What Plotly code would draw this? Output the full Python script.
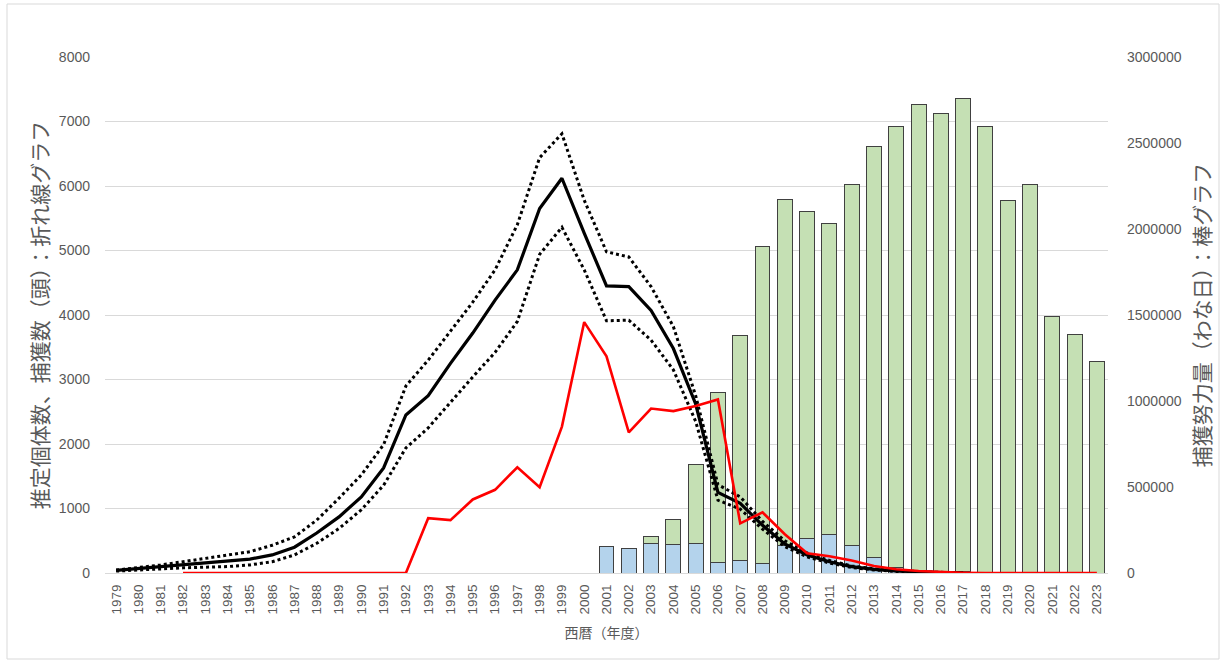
import plotly.graph_objects as go

years = [str(y) for y in range(1979, 2024)]

N = None
# Estimated population (left axis, heads)
est_mid = [40, 70, 100, 130, 155, 180, 215, 280, 400, 620, 870, 1180, 1630, 2450, 2750,
           3250, 3720, 4230, 4700, 5650, 6120, 5270, 4450, 4440, 4070, 3480, 2620, 1250,
           1080, 740, 450, 280, 175, 98, 57, 31, 15, 8, 4, N, N, N, N, N, N]
est_upper = [45, 80, 125, 175, 225, 275, 330, 430, 560, 820, 1160, 1520, 1990, 2900, 3300,
             3750, 4200, 4700, 5400, 6440, 6810, 5780, 4980, 4900, 4440, 3820, 2750, 1370,
             1180, 800, 500, 310, 195, 110, 65, 36, 18, 10, 5, N, N, N, N, N, N]
est_lower = [30, 50, 65, 80, 90, 100, 125, 175, 280, 460, 690, 980, 1360, 1940, 2250,
             2650, 3040, 3420, 3900, 4940, 5360, 4700, 3910, 3920, 3610, 3150, 2350, 1130,
             990, 680, 410, 250, 155, 85, 48, 25, 12, 6, 3, N, N, N, N, N, N]
# Captures (left axis, heads)
captures = [N, N, N, 0, 0, 0, 0, 0, 0, 0, 0, 0, 0, 0, 850,
            820, 1140, 1290, 1640, 1330, 2270, 3890, 3360, 2180, 2550, 2510, 2590, 2690,
            770, 940, 600, 305, 260, 195, 108, 57, 30, 15, 5, 0, 0, 0, 0, 0, 0]
# Trap effort (right axis, trap-days), stacked
effort_blue = [N]*22 + [157000, 140000, 169000, 163000, 169000, 62000, 70000, 58000,
                        160000, 200000, 221000, 160000, 92000, 30000, 10000, 8000, 10000,
                        N, N, N, N, N, N]
effort_green = [N]*22 + [N, N, 42000, 149000, 459000, 986000, 1310000, 1839000,
                         2013000, 1899000, 1812000, 2096000, 2389000, 2567000, 2712000,
                         2662000, 2746000, 2597000, 2167000, 2257000, 1494000, 1384000, 1228000]

left_ticks = [0, 1000, 2000, 3000, 4000, 5000, 6000, 7000, 8000]
right_ticks = [0, 500000, 1000000, 1500000, 2000000, 2500000, 3000000]

GRAY = "#595959"
JP = "Noto Sans CJK JP"
NUM = "Liberation Sans"

fig = go.Figure()
fig.add_trace(go.Bar(x=years, y=effort_blue, yaxis="y", marker=dict(color="#B4D3EC", line=dict(color="#404040", width=1)), name="blue"))
fig.add_trace(go.Bar(x=years, y=effort_green, yaxis="y", marker=dict(color="#C5E0B4", line=dict(color="#404040", width=1)), name="green"))

fig.add_trace(go.Scatter(x=years, y=est_upper, yaxis="y2", mode="lines", line=dict(color="black", width=3, dash="dot")))
fig.add_trace(go.Scatter(x=years, y=est_lower, yaxis="y2", mode="lines", line=dict(color="black", width=3, dash="dot")))
fig.add_trace(go.Scatter(x=years, y=est_mid, yaxis="y2", mode="lines", line=dict(color="black", width=3.2)))
fig.add_trace(go.Scatter(x=years, y=captures, yaxis="y2", mode="lines", line=dict(color="#FF0000", width=2.6)))

fig.update_layout(
    width=1223, height=662,
    margin=dict(l=105, r=115, t=57, b=89),
    paper_bgcolor="white", plot_bgcolor="white",
    showlegend=False,
    barmode="stack", bargap=0.33,
    xaxis=dict(type="category", categoryorder="array", categoryarray=years,
               tickangle=-90, tickfont=dict(family=NUM, size=13.5, color=GRAY),
               showgrid=False, showline=True, linecolor="#D9D9D9", linewidth=1,
               ticks="", ticklabelstandoff=5,
               title=dict(text="西暦（年度）", font=dict(family=JP, size=14, color=GRAY), standoff=14)),
    yaxis=dict(side="right", range=[0, 3000000], tickvals=right_ticks,
               ticktext=[str(v) for v in right_ticks],
               tickfont=dict(family=NUM, size=14, color=GRAY), showgrid=False,
               zeroline=False, ticks="", ticklabelstandoff=18,
               title=dict(text="捕獲努力量（わな日）：棒グラフ", font=dict(family=JP, size=21, color=GRAY), standoff=14)),
    yaxis2=dict(side="left", overlaying="y", range=[0, 8000], tickvals=left_ticks,
                ticktext=[str(v) for v in left_ticks],
                tickfont=dict(family=NUM, size=14, color=GRAY), showgrid=True,
                gridcolor="#D9D9D9", gridwidth=1, zeroline=False, ticks="",
                ticklabelstandoff=14,
                title=dict(text="推定個体数、捕獲数（頭）：折れ線グラフ", font=dict(family=JP, size=21, color=GRAY), standoff=4)),
    shapes=[dict(type="rect", xref="paper", yref="paper",
                 x0=(7-105)/1003, x1=(1219-105)/1003,
                 y0=(573-659)/516, y1=1+(57-4)/516,
                 line=dict(color="#D9D9D9", width=1), layer="below")],
)

fig.write_html("out.html", config={"displayModeBar": False},
               post_script="document.body.style.margin='0px';document.body.style.overflow='hidden';")
